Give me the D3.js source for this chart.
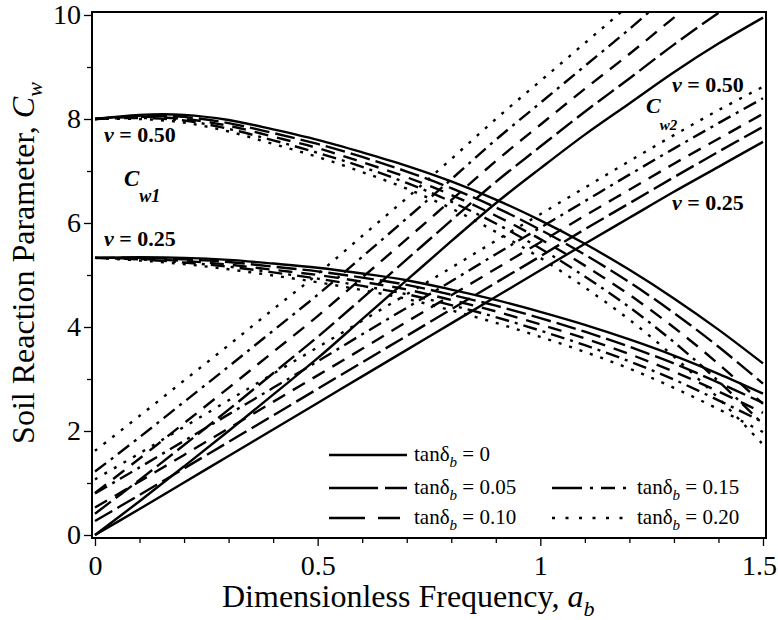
<!DOCTYPE html>
<html>
<head>
<meta charset="utf-8">
<script src="https://cdn.jsdelivr.net/npm/d3@7/dist/d3.min.js"></script>
<style>
  body { margin: 0; background: #fff; }
  svg, svg text { font-family: "Liberation Serif", "Times New Roman", serif; }
</style>
</head>
<body>
<svg id="viz"></svg>
<script>
// dimensionless frequency a_b, shared by every curve
var freq = [0, 0.1, 0.2, 0.3, 0.4, 0.5, 0.6, 0.7, 0.8, 0.9, 1.0, 1.1, 1.2, 1.3, 1.4, 1.5];
var tanDelta = ['0', '0.05', '0.10', '0.15', '0.20'];

// Cw1, nu = 0.50 (one row per tanDelta)
var cw1Nu050 = [
  [8.0, 8.08, 8.08, 7.98, 7.8, 7.6, 7.36, 7.1, 6.8, 6.45, 6.05, 5.6, 5.1, 4.55, 3.95, 3.3],
  [8.0, 8.06, 8.04, 7.92, 7.73, 7.52, 7.27, 6.99, 6.67, 6.3, 5.87, 5.39, 4.86, 4.27, 3.62, 2.91],
  [8.0, 8.04, 8.0, 7.87, 7.66, 7.44, 7.17, 6.88, 6.54, 6.14, 5.69, 5.18, 4.62, 3.99, 3.29, 2.52],
  [8.0, 8.02, 7.97, 7.81, 7.59, 7.35, 7.08, 6.77, 6.41, 5.99, 5.51, 4.97, 4.38, 3.71, 2.96, 2.13],
  [8.0, 8.0, 7.93, 7.76, 7.52, 7.27, 6.98, 6.66, 6.28, 5.83, 5.33, 4.76, 4.14, 3.43, 2.63, 1.74]
];
// Cw1, nu = 0.25
var cw1Nu025 = [
  [5.33, 5.34, 5.33, 5.29, 5.22, 5.14, 5.03, 4.9, 4.72, 4.52, 4.29, 4.04, 3.76, 3.45, 3.1, 2.72],
  [5.33, 5.33, 5.3, 5.25, 5.16, 5.07, 4.95, 4.81, 4.62, 4.41, 4.17, 3.91, 3.62, 3.3, 2.93, 2.54],
  [5.33, 5.31, 5.27, 5.2, 5.1, 5.0, 4.87, 4.72, 4.52, 4.3, 4.05, 3.78, 3.48, 3.14, 2.76, 2.35],
  [5.33, 5.3, 5.24, 5.16, 5.05, 4.93, 4.79, 4.63, 4.42, 4.19, 3.93, 3.65, 3.34, 2.99, 2.59, 2.17],
  [5.33, 5.28, 5.21, 5.11, 4.99, 4.86, 4.71, 4.54, 4.32, 4.08, 3.81, 3.52, 3.2, 2.83, 2.42, 1.98]
];
// Cw2, nu = 0.50 (runs off the top of the frame)
var cw2Nu050 = [
  [0, 0.65, 1.32, 2.0, 2.7, 3.4, 4.15, 4.9, 5.65, 6.38, 7.05, 7.7, 8.3, 8.9, 9.45, 9.95],
  [0.41, 1.06, 1.73, 2.41, 3.11, 3.81, 4.55, 5.3, 6.05, 6.79, 7.47, 8.14, 8.78, 9.43, 10.04, 10.61],
  [0.81, 1.47, 2.15, 2.83, 3.52, 4.21, 4.95, 5.69, 6.44, 7.19, 7.89, 8.58, 9.25, 9.95, 10.63],
  [1.22, 1.88, 2.56, 3.24, 3.93, 4.62, 5.35, 6.09, 6.84, 7.6, 8.31, 9.02, 9.73, 10.48],
  [1.62, 2.29, 2.97, 3.65, 4.34, 5.02, 5.75, 6.48, 7.23, 8.0, 8.73, 9.46, 10.2, 11.0]
];
// Cw2, nu = 0.25
var cw2Nu025 = [
  [0, 0.5, 1.01, 1.52, 2.03, 2.54, 3.05, 3.56, 4.07, 4.58, 5.09, 5.6, 6.1, 6.6, 7.08, 7.56],
  [0.27, 0.77, 1.28, 1.79, 2.3, 2.81, 3.32, 3.83, 4.34, 4.85, 5.36, 5.88, 6.38, 6.88, 7.37, 7.85],
  [0.53, 1.03, 1.54, 2.05, 2.56, 3.07, 3.58, 4.1, 4.61, 5.12, 5.63, 6.14, 6.64, 7.14, 7.62, 8.1],
  [0.8, 1.3, 1.81, 2.32, 2.83, 3.34, 3.86, 4.37, 4.88, 5.4, 5.91, 6.42, 6.93, 7.43, 7.92, 8.4],
  [1.07, 1.57, 2.08, 2.59, 3.1, 3.61, 4.12, 4.63, 5.14, 5.66, 6.17, 6.68, 7.19, 7.69, 8.17, 8.62]
];

var xTicks = [0, 0.5, 1, 1.5];
var xTickLabels = ['0', '0.5', '1', '1.5'];
var xMinorTicks = [0.1, 0.2, 0.3, 0.4, 0.6, 0.7, 0.8, 0.9, 1.1, 1.2, 1.3, 1.4];
var yTicks = [0, 2, 4, 6, 8, 10];
var yMinorTicks = [1, 3, 5, 7, 9];

/** Initial setting */
var width = 778;
var height = 620;
var margin = {top: 15, right: 15, bottom: 85, left: 95};
var drawWidth = width - margin.left - margin.right;
var drawHeight = height - margin.top - margin.bottom;
var pad = 3; // frame sits a few px outside the data range
var serif = '"Liberation Serif", "Times New Roman", serif';

var dashes = ['none', '20,6', '14,9', '14,6,3,6', '3,8'];
var legendDashes = ['none', '49,7,22', '36,13,22', '30,8,3,8,14,8,3', '3,10.5'];

var svg = d3.select('#viz')
            .attr('width', width)
            .attr('height', height)
            .attr('font-family', serif);

var xScale = d3.scaleLinear().domain([0, 1.5]).range([margin.left, margin.left + drawWidth]);
var yScale = d3.scaleLinear().domain([0, 10]).range([margin.top + drawHeight, margin.top]);

var frameX0 = margin.left - pad, frameX1 = margin.left + drawWidth + pad;
var frameY0 = margin.top - pad, frameY1 = margin.top + drawHeight + pad;

svg.append('clipPath').attr('id', 'clip')
   .append('rect')
   .attr('x', frameX0).attr('y', frameY0)
   .attr('width', frameX1 - frameX0).attr('height', frameY1 - frameY0);

/************ curves ************/
var line = d3.line()
             .x(d => xScale(d[0]))
             .y(d => yScale(d[1]))
             .curve(d3.curveCatmullRom.alpha(0.5));

var families = [cw1Nu050, cw1Nu025, cw2Nu050, cw2Nu025];
var series = [];
families.forEach(function(fam){
    fam.forEach(function(row, j){
        series.push({k: j, pts: row.map((v, i) => [freq[i], v])});
    });
});

svg.append('g')
   .attr('clip-path', 'url(#clip)')
   .selectAll('path')
   .data(series)
   .enter()
   .append('path')
   .attr('d', d => line(d.pts))
   .attr('fill', 'none')
   .attr('stroke', '#000')
   .attr('stroke-width', 2.4)
   .attr('stroke-dasharray', d => dashes[d.k]);

/************ axes ************/
var xAxis = d3.axisBottom(xScale).tickValues(xTicks).tickFormat((d, i) => xTickLabels[i]).tickSize(8).tickPadding(9);
var xMinor = d3.axisBottom(xScale).tickValues(xMinorTicks).tickFormat('').tickSize(5);
var yAxis = d3.axisLeft(yScale).tickValues(yTicks).tickSize(8).tickPadding(3);
var yMinor = d3.axisLeft(yScale).tickValues(yMinorTicks).tickFormat('').tickSize(5);

[[xAxis, 'b'], [xMinor, 'b'], [yAxis, 'l'], [yMinor, 'l']].forEach(function(a){
    var g = svg.append('g')
       .attr('transform', a[1] === 'b' ? `translate(0,${frameY1})` : `translate(${frameX0},0)`)
       .call(a[0])
       .attr('font-family', serif)
       .attr('font-size', 28);
    g.select('.domain').remove();
    g.selectAll('line').attr('stroke', '#000').attr('stroke-width', 1.3);
    g.selectAll('text').attr('fill', '#000');
});
// last x label sits against the page edge
svg.selectAll('text').filter(function(){ return this.textContent === '1.5'; }).attr('dx', -4);

svg.append('rect')
   .attr('x', frameX0).attr('y', frameY0)
   .attr('width', frameX1 - frameX0).attr('height', frameY1 - frameY0)
   .attr('fill', 'none').attr('stroke', '#000').attr('stroke-width', 2);

/************ axis titles ************/
var yTitle = svg.append('text')
   .attr('transform', 'translate(34,263) rotate(-90)')
   .attr('text-anchor', 'middle')
   .style('font-size', '32px');
yTitle.append('tspan').text('Soil Reaction Parameter, ');
yTitle.append('tspan').style('font-style', 'italic').text('C');
yTitle.append('tspan').style('font-style', 'italic').style('font-size', '22px').attr('dy', 8).text('w');

var xTitle = svg.append('text')
   .attr('x', 222).attr('y', 607)
   .style('font-size', '32px');
xTitle.append('tspan').text('Dimensionless Frequency, ');
xTitle.append('tspan').style('font-style', 'italic').text('a');
xTitle.append('tspan').style('font-style', 'italic').style('font-size', '22px').attr('dy', 9).text('b');

/************ curve labels ************/
function nuLabel(x, y, val){
    var t = svg.append('text').attr('x', x).attr('y', y)
               .style('font-size', '22px').style('font-weight', 'bold');
    t.append('tspan').style('font-style', 'italic').text('\u03bd');
    t.append('tspan').text(' = ' + val);
}
function cLabel(x, y, sub, size, subSize, dx, dy){
    var t = svg.append('text').attr('x', x).attr('y', y)
               .style('font-size', size + 'px').style('font-weight', 'bold').style('font-style', 'italic');
    t.append('tspan').text('C');
    t.append('tspan').attr('dx', dx).attr('dy', dy).style('font-size', subSize + 'px').text(sub);
}
nuLabel(104, 142, '0.50');
cLabel(124, 186, 'w1', 23, 18, 0, 16);
nuLabel(104, 246, '0.25');
nuLabel(672, 92, '0.50');
cLabel(646, 113, 'w2', 22, 15, -1, 17);
nuLabel(672, 210, '0.25');

/************ legend ************/
var legendItems = [
    {k: 0, x: 329, y: 455},
    {k: 1, x: 329, y: 488},
    {k: 2, x: 329, y: 518},
    {k: 3, x: 552, y: 488},
    {k: 4, x: 552, y: 518}
];
var leg = svg.selectAll('.legend')
   .data(legendItems)
   .enter()
   .append('g')
   .attr('class', 'legend')
   .attr('transform', d => `translate(${d.x},${d.y})`);

leg.append('line')
   .attr('x1', 0).attr('x2', 78)
   .attr('stroke', '#000').attr('stroke-width', 2.4)
   .attr('stroke-dasharray', d => legendDashes[d.k]);

var legText = leg.append('text')
   .attr('x', 85)
   .attr('y', 6)
   .style('font-size', '21px');
legText.append('tspan').text('tan\u03b4');
legText.append('tspan').style('font-style', 'italic').style('font-size', '15px').attr('dy', 6).text('b');
legText.append('tspan').attr('dy', -6).text(d => ' = ' + tanDelta[d.k]);
</script>
</body>
</html>
